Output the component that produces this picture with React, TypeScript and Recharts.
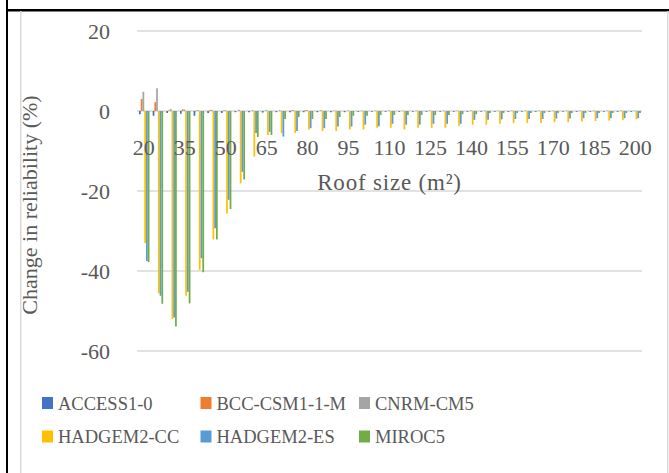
import { BarChart, Bar, XAxis, YAxis, CartesianGrid } from "recharts";

const roofSizes = [
  20, 25, 30, 35, 40, 45, 50, 55, 60, 65, 70, 75, 80, 85, 90, 95, 100, 105, 110,
  115, 120, 125, 130, 135, 140, 145, 150, 155, 160, 165, 170, 175, 180, 185, 190,
  195, 200,
];

const access10 = [
  -0.8, -1.2, -0.5, -0.7, -1.2, -0.5, -0.5, -0.3, -0.3, -0.4, -0.3, -0.3, -0.3,
  -0.3, -0.3, -0.3, -0.2, -0.2, -0.2, -0.2, -0.2, -0.2, -0.2, -0.2, -0.2, -0.2,
  -0.2, -0.2, -0.2, -0.2, -0.2, -0.2, -0.2, -0.2, -0.2, -0.2, -0.2,
];
const bccCsm = [
  3.0, 2.2, 0.1, 0.4, 0.1, 0.2, 0.1, 0, 0, 0, 0, 0.2, 0.2, 0, 0, 0, 0, 0, 0, 0,
  0, 0, 0, 0, 0, 0, 0, 0, 0, 0, 0, 0, 0, 0, 0, 0, 0,
];
const cnrmCm5 = [
  4.8, 5.7, 0.5, 0.4, 0.2, 0.3, 0.2, 0.3, 0.2, 0.2, 0.2, 0.2, 0.2, 0.2, 0.1,
  0.1, 0.1, 0.1, 0.1, 0.1, 0.1, 0.1, 0.1, 0.1, 0.1, 0.1, 0.1, 0.1, 0.1, 0.1,
  0.1, 0.1, 0.1, 0.1, 0.1, 0.1, 0.1,
];
const hadgemCc = [
  -33, -45.6, -52, -46.2, -39.7, -32.1, -25.6, -18.1, -11.4, -6, -5.5, -5.5,
  -4.6, -5, -5, -4.6, -4.6, -4.2, -4.2, -4.6, -4.2, -4.2, -4.2, -3.7, -3.4,
  -3.4, -3.2, -3, -3, -3, -2.8, -2.8, -2.6, -2.5, -2.4, -2.3, -2.1,
];
const hadgemEs = [
  -37.5, -46.2, -51.6, -45.2, -36.8, -29.3, -22.2, -15.2, -5.5, -5.2, -6.4, -5,
  -4.3, -4.3, -3.9, -3.9, -3.4, -3.8, -3.2, -3.4, -3.4, -3.2, -3.2, -3.2, -2.2,
  -2.2, -2.1, -2, -2, -2, -1.9, -1.9, -1.8, -1.8, -1.8, -1.8, -1.8,
];
const miroc5 = [
  -37.8, -48.2, -53.9, -48.1, -40.3, -32.1, -24.5, -17.1, -6.5, -6, -2, -1.5,
  -2, -2, -1.5, -1.2, -1.2, -1, -1, -1, -1, -1, -1, -0.8, -0.8, -0.5, -0.5,
  -0.5, -0.5, -0.5, -0.5, -0.5, -0.5, -0.5, -0.5, -0.5, -0.5,
];

const yTicks = [-60, -40, -20, 0, 20];

const series = [
  { key: "ACCESS1-0", values: access10, color: "#4472C4" },
  { key: "BCC-CSM1-1-M", values: bccCsm, color: "#ED7D31" },
  { key: "CNRM-CM5", values: cnrmCm5, color: "#A5A5A5" },
  { key: "HADGEM2-CC", values: hadgemCc, color: "#FFC000" },
  { key: "HADGEM2-ES", values: hadgemEs, color: "#5B9BD5" },
  { key: "MIROC5", values: miroc5, color: "#70AD47" },
];

const data = roofSizes.map((size, i) => {
  const row: Record<string, number> = { size };
  series.forEach((s) => (row[s.key] = s.values[i]));
  return row;
});

const W = 669;
const H = 473;
const PLOT_TOP = 31;
const PLOT_BOTTOM = 351;
const PLOT_LEFT = 137;
const PLOT_RIGHT = 642;
const X_AXIS_H = 30;
const Y_MIN = -60;
const Y_MAX = 20;
const ZERO_Y =
  PLOT_TOP + ((PLOT_BOTTOM - PLOT_TOP) * Y_MAX) / (Y_MAX - Y_MIN);

const FONT = "'Liberation Serif', 'Times New Roman', serif";
const TEXT = "#595959";

// Excel puts the category labels next to the zero line, not at the bottom
const renderXTick = (props: any) => (
  <text
    key={props.index}
    x={props.x}
    y={ZERO_Y + 44}
    textAnchor="middle"
    fill={TEXT}
    fontSize={22}
    fontFamily={FONT}
  >
    {props.payload.value}
  </text>
);

export default function App() {
  return (
    <div
      style={{
        position: "absolute",
        left: 0,
        top: 0,
        width: W,
        height: H,
        background: "#fff",
        overflow: "hidden",
      }}
    >
      <BarChart
        width={W}
        height={H}
        data={data}
        barGap={0}
        barSize={1.75}
        margin={{
          top: PLOT_TOP,
          right: W - PLOT_RIGHT,
          bottom: H - PLOT_BOTTOM - X_AXIS_H,
          left: PLOT_LEFT - 60,
        }}
      >
        <CartesianGrid vertical={false} stroke="#d9d9d9" strokeWidth={1.5} />
        <XAxis
          dataKey="size"
          height={X_AXIS_H}
          axisLine={false}
          tickLine={false}
          interval={2}
          tick={renderXTick}
        />
        <YAxis
          width={60}
          domain={[Y_MIN, Y_MAX]}
          ticks={yTicks}
          axisLine={false}
          tickLine={false}
          tickSize={0}
          tickMargin={27}
          tick={{ fill: TEXT, fontSize: 22, fontFamily: FONT }}
        />
        {series.map((s) => (
          <Bar
            key={s.key}
            dataKey={s.key}
            fill={s.color}
            isAnimationActive={false}
          />
        ))}
      </BarChart>

      <svg
        width={W}
        height={H}
        style={{ position: "absolute", left: 0, top: 0, pointerEvents: "none" }}
      >
        <rect x={6} y={0} width={2} height={H} fill="#000" />
        <rect x={6} y={9} width={W - 6} height={2.5} fill="#000" />
        <rect x={20} y={11} width={1.5} height={H} fill="#d9d9d9" />
        <rect x={667} y={11} width={1.5} height={H} fill="#d9d9d9" />
        <text
          x={(PLOT_LEFT + PLOT_RIGHT) / 2}
          y={190}
          textAnchor="middle"
          fill={TEXT}
          fontSize={23}
          letterSpacing={0.8}
          fontFamily={FONT}
        >
          Roof size (m²)
        </text>
        <text
          transform="translate(37,205) rotate(-90)"
          textAnchor="middle"
          fill={TEXT}
          fontSize={22}
          fontFamily={FONT}
        >
          Change in reliability (%)
        </text>
        {series.map((s, i) => {
          const col = i % 3;
          const row = Math.floor(i / 3);
          const x = 42 + col * 158.5;
          const y = 397 + row * 33.5;
          return (
            <g key={s.key}>
              <rect x={x} y={y} width={11} height={12} fill={s.color} />
              <text
                x={x + 16}
                y={y + 12.5}
                fill={TEXT}
                fontSize={18.5}
                fontFamily={FONT}
              >
                {s.key}
              </text>
            </g>
          );
        })}
      </svg>
    </div>
  );
}
